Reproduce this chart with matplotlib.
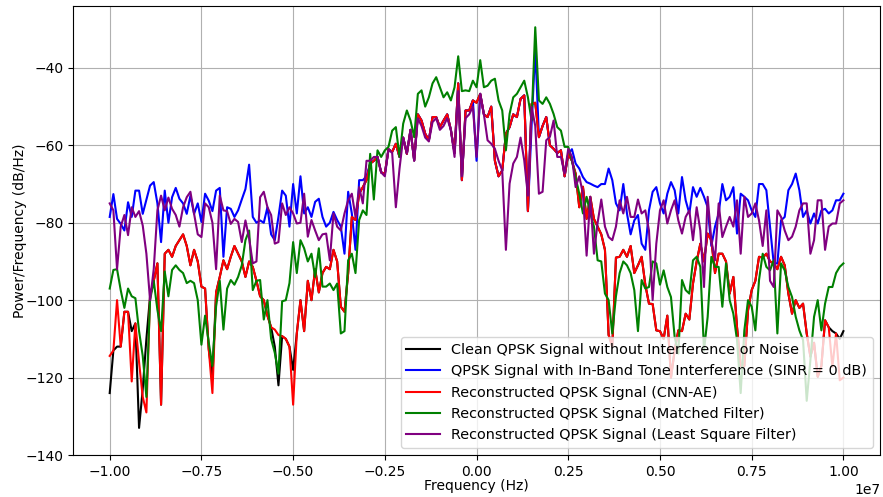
import numpy as np
import matplotlib
matplotlib.use("Agg")
import matplotlib.pyplot as plt

# Frequency grid (Hz): 201 bins spanning -10 MHz .. +10 MHz
freq_hz = np.linspace(-1e7, 1e7, 201)

# Power spectral density estimates (dB/Hz)
psd_clean = [
    -124, -113, -112, -112, -103, -103, -108, -106, -133, -123, -110, -99, -95, -90.5, -127, -88, -87, -88.8, -86, -84.5,
    -83, -86, -91, -87, -90, -96.5, -97, -112.7, -120, -98, -94, -89.7, -92, -88.8, -86, -88, -90, -94, -90, -91.4,
    -95, -99, -100, -104, -107, -112, -122, -109.3, -110, -112, -118, -108.6, -100, -108, -95, -100, -92, -98, -93, -91.4,
    -92, -87, -90, -101.7, -103, -93, -78.5, -79.3, -72.5, -70.8, -69, -64.7, -64, -63, -67, -67.3, -61, -61.7, -59.6, -63,
    -58, -62.2, -56, -63.9, -52, -53.6, -57, -58.7, -52.7, -52.7, -55.3, -53.6, -52, -56, -62, -44, -69, -51, -51, -48.4,
    -49, -46.7, -52, -52.7, -50, -64, -68, -66.5, -57, -55.3, -52, -52.7, -48, -47.1, -77, -49.3, -49, -57.9, -55, -52.7,
    -60, -60.9, -62, -61.3, -68, -62.2, -64, -67.3, -76, -70.7, -79, -73.3, -79, -81, -83, -87, -109, -112, -89, -88.8,
    -87, -88.8, -86, -93, -91, -88.8, -96, -100.9, -101, -107.8, -108, -110, -104, -120, -113, -107.8, -108, -103.5, -105, -95.7,
    -90, -85.4, -90, -82.8, -84.5, -93, -88, -88, -90, -98.3, -94, -107, -117, -117, -102.6, -97.4, -95, -88.8, -89, -88,
    -90, -90.5, -92, -88.8, -91, -98.3, -103.5, -100, -102, -100.9, -108.6, -114.6, -111, -119.8, -117, -105.2, -107, -108, -108.6, -110,
    -108,
]

psd_interfered = [
    -78.5, -72.6, -79, -80.3, -82, -74.7, -78.5, -71.7, -71.7, -77.7, -74, -70.4, -69.5, -75, -85, -71.7, -80, -73.4, -71, -73.8,
    -75, -77.7, -73, -77.7, -75, -79.8, -72.5, -74.3, -77, -71.7, -71, -88.8, -76, -76.4, -78.5, -76.8, -74, -71.3, -65, -78.5,
    -80, -79.4, -80, -76, -83, -84.5, -78.5, -71.7, -73, -81, -70, -77.6, -68, -77.6, -76, -78.5, -74.6, -73.8, -78.5, -81,
    -80, -77.2, -79.3, -81, -88, -72, -77.6, -87, -69, -69, -68, -64.7, -64, -63, -67, -67.3, -61, -61.7, -59.6, -63,
    -58, -62.2, -56, -63.9, -52, -53.6, -57, -58.7, -52.7, -52.7, -55.3, -53.6, -52, -56, -62, -44, -69, -51, -51, -48.4,
    -64, -46.7, -52, -52.7, -50, -64, -68, -66.5, -57, -55.3, -52, -52.7, -48, -47.1, -77, -55, -35, -57.9, -55, -52.7,
    -60, -60.9, -62, -61.3, -68, -62.2, -61, -64.7, -66, -68.2, -69.5, -69.9, -70.4, -70.8, -70, -70, -66, -69, -75, -76.8,
    -70, -77.6, -83, -79.4, -78, -85.4, -87, -76.8, -72, -70.8, -75, -77.6, -72.5, -69.5, -71.6, -77.6, -68.2, -74.2, -77.6, -70.8,
    -73.3, -71, -73.3, -76, -86, -81, -77.6, -70, -74.2, -73.3, -70.8, -82.8, -72.5, -73.3, -74.2, -76.8, -78.5, -70, -70, -71.6,
    -81, -90.5, -90.5, -79.4, -78.5, -71.6, -70, -67.3, -71.6, -78.5, -76.8, -80.2, -77.6, -80.2, -76.8, -76.4, -77.6, -76.8, -74.2, -74.2,
    -72.5,
]

psd_cnn_ae = [
    -114.4, -113, -100, -112, -103, -103, -121, -106, -116, -125, -129, -99, -95, -90.5, -127, -88, -87, -88.8, -86, -84.5,
    -83, -86, -91, -87, -90, -96.5, -97, -112.7, -124, -98, -94, -89.7, -92, -88.8, -86, -88, -90, -94, -90, -91.4,
    -95, -99, -100, -104, -107, -107.6, -109, -109.3, -110, -112, -127, -108.6, -100, -108, -95, -100, -92, -98, -93, -91.4,
    -92, -87, -90, -101.7, -103, -93, -78.5, -79.3, -72.5, -70.8, -69, -64.7, -64, -63, -67, -67.3, -61, -61.7, -59.6, -63,
    -58, -62.2, -56, -63.9, -52, -53.6, -57, -58.7, -52.7, -52.7, -55.3, -53.6, -52, -56, -62, -44, -69, -51, -51, -48.4,
    -49, -46.7, -52, -52.7, -50, -64, -68, -66.5, -57, -55.3, -52, -52.7, -48, -47.1, -77, -49.3, -49, -57.9, -55, -52.7,
    -60, -60.9, -62, -61.3, -68, -62.2, -64, -67.3, -76, -70.7, -79, -73.3, -79, -81, -83, -87, -109, -112, -89, -88.8,
    -87, -88.8, -86, -93, -91, -88.8, -96, -100.9, -101, -107.8, -108, -110, -104, -120, -113, -107.8, -108, -103.5, -105, -95.7,
    -90, -85.4, -90, -82.8, -84.5, -93, -88, -88, -90, -98.3, -94, -107, -117, -117, -102.6, -97.4, -95, -88.8, -89, -88,
    -90, -90.5, -92, -88.8, -91, -98.3, -103.5, -100, -102, -100.9, -108.6, -114.6, -111, -119.8, -117, -105.2, -107, -117.2, -108.6, -120.7,
    -120,
]

psd_matched = [
    -97, -92.2, -92, -97.4, -102, -97, -99, -99.5, -108, -114.4, -125, -100, -95, -102.5, -108, -92.6, -99, -92.2, -91, -92.2,
    -93, -95.6, -95, -95.6, -100, -111.5, -104, -111, -117, -101.6, -95, -107.6, -97, -94.8, -96, -94, -91, -84.5, -82, -97.4,
    -95, -94.8, -105, -100, -110, -113.6, -119, -100.3, -100, -95.6, -85, -93, -84.5, -86.6, -90, -88, -94, -86.6, -96.5, -96.5,
    -95.7, -97.4, -95.7, -108.6, -108, -89.7, -88, -93, -79.3, -76.8, -78, -62.2, -74, -61.3, -63, -61.3, -60.4, -56.2, -55.3, -63,
    -54.4, -51, -53.6, -57.9, -46.7, -45.8, -50, -47.6, -44, -42.4, -45, -47.6, -46.3, -48.4, -45, -37, -46, -45.8, -46, -43.3,
    -45, -38, -45, -44.6, -43.3, -42.8, -48.4, -51, -61.3, -51.9, -47.6, -46.7, -45, -43.3, -47.6, -53.6, -29.5, -48.4, -49.3, -47.6,
    -49.3, -51.9, -55.3, -56.2, -60.4, -60.4, -64, -68.2, -72.5, -77.6, -73.3, -77.6, -81, -89.7, -90, -98.3, -100, -108.6, -99, -93,
    -90, -91, -93, -97.4, -108, -94.8, -97, -96.6, -90, -90.5, -96, -92.3, -96.6, -99.2, -109.5, -113.8, -94.8, -97.4, -98.3, -89.7,
    -88.8, -91.4, -113, -104.3, -88.8, -91.4, -91.4, -101.7, -90.5, -100, -103.5, -110.3, -124, -107.8, -100, -101.7, -107.8, -94.8, -88, -91.4,
    -92.3, -89.7, -108.6, -90.5, -92.3, -96.6, -99.2, -104.3, -107.8, -110.3, -126, -115.5, -104.3, -100, -107.8, -100.9, -96.6, -96.6, -93, -91.4,
    -90.5,
]

psd_least_sq = [
    -75, -76.8, -92, -81, -78, -83.2, -76, -78.5, -77, -80.7, -88, -100, -92, -76.8, -73, -76.8, -73.5, -76.4, -78, -81,
    -76, -73.4, -72, -77.7, -83, -83.7, -75, -76, -80, -92, -73, -76.8, -77, -80.3, -79, -79.8, -85, -79.4, -84, -90.5,
    -90, -73.4, -72, -76, -78, -85.4, -85, -75, -78, -76, -77.6, -80.2, -80, -72.5, -83.6, -79.3, -82, -84.5, -83, -82.8,
    -89.7, -77.6, -81, -82, -77.6, -74.2, -72.5, -78.5, -70.8, -75, -64, -64, -63, -63, -67, -68, -61, -62, -76, -66,
    -58, -62, -56, -64, -53, -55, -58, -59, -54, -53, -56, -55, -53, -56, -63, -46, -68, -53, -52, -50,
    -63, -46.7, -52, -58.7, -59.6, -60.9, -64, -66.5, -87, -69.9, -64.7, -63, -58, -63.9, -73, -50.1, -55, -72.5, -72, -58.7,
    -57.8, -53.6, -63, -63, -67.3, -60.9, -63, -70.8, -68, -72.5, -88.5, -73.3, -88, -80, -74, -81, -83.7, -84.5, -81, -74.2,
    -77.6, -73.3, -78.5, -78.5, -74, -77.6, -76.8, -82, -100, -85.4, -76.8, -74.2, -80.2, -76.8, -74.2, -79.4, -82.8, -78.5, -76.8, -84.5,
    -76, -82, -96.6, -73.3, -84.5, -89.7, -75, -83.7, -81, -78.5, -81, -74.2, -88, -73.3, -78.5, -77.6, -75, -79.4, -86, -76.8,
    -95, -96.6, -76.8, -78.5, -82, -84.5, -83.6, -81, -76.8, -75, -75, -88, -84.5, -74.2, -74.2, -87, -81, -80.2, -80.2, -75,
    -74.2,
]

labels = [
    "Clean QPSK Signal without Interference or Noise",
    "QPSK Signal with In-Band Tone Interference (SINR = 0 dB)",
    "Reconstructed QPSK Signal (CNN-AE)",
    "Reconstructed QPSK Signal (Matched Filter)",
    "Reconstructed QPSK Signal (Least Square Filter)",
]
colors = ["black", "blue", "red", "green", "purple"]
series = [psd_clean, psd_interfered, psd_cnn_ae, psd_matched, psd_least_sq]

fig = plt.figure(figsize=(8.83, 4.97), dpi=100)
ax = fig.add_axes([0.0827, 0.0845, 0.914, 0.9035])

for vals, lab, col in zip(series, labels, colors):
    ax.plot(freq_hz, vals, color=col, linewidth=1.5, label=lab)

ax.set_ylim(-140, -24)
ax.set_yticks([-140, -120, -100, -80, -60, -40])
ax.set_xticks(np.arange(-1e7, 1.01e7, 0.25e7))
ax.grid(True)
ax.set_xlabel("Frequency (Hz)", labelpad=0)
ax.set_ylabel("Power/Frequency (dB/Hz)", labelpad=-1)
ax.legend(loc="lower right", fontsize=10.4, handlelength=2.3)

fig.savefig("out.png", dpi=100)
